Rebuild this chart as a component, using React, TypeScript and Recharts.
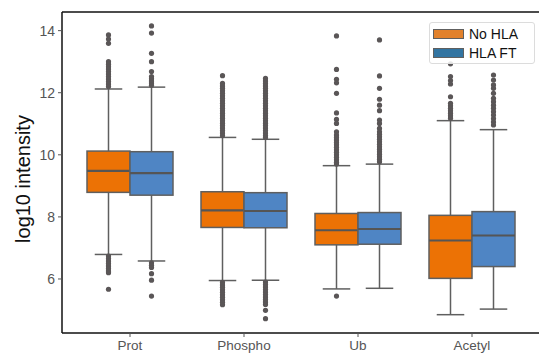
import { Bar, ComposedChart, ReferenceLine, XAxis, YAxis } from "recharts";

const categories = ["Prot", "Phospho", "Ub", "Acetyl"];

// No HLA box stats
const noHlaLow = [6.79, 5.95, 5.68, 4.85];
const noHlaQ1 = [8.79, 7.66, 7.1, 6.02];
const noHlaMedian = [9.48, 8.21, 7.57, 7.24];
const noHlaQ3 = [10.12, 8.81, 8.11, 8.05];
const noHlaHigh = [12.12, 10.56, 9.65, 11.1];

// HLA FT box stats
const hlaLow = [6.58, 5.96, 5.7, 5.03];
const hlaQ1 = [8.7, 7.65, 7.12, 6.4];
const hlaMedian = [9.41, 8.19, 7.61, 7.4];
const hlaQ3 = [10.1, 8.78, 8.14, 8.17];
const hlaHigh = [12.18, 10.5, 9.7, 10.81];

const noHlaOutliers = [
  [
    13.86, 13.73, 13.59, 13.0, 12.92, 12.84, 12.76, 12.68, 12.6, 12.52, 12.44,
    12.36, 12.28, 12.2, 6.74, 6.66, 6.58, 6.5, 6.42, 6.34, 6.26, 6.2, 5.67,
  ],
  [
    12.55, 12.3, 12.22, 12.14, 12.06, 11.98, 11.9, 11.82, 11.74, 11.66, 11.58,
    11.5, 11.42, 11.34, 11.26, 11.18, 11.1, 11.02, 10.94, 10.86, 10.78, 10.7,
    10.62, 5.89, 5.81, 5.73, 5.65, 5.57, 5.49, 5.41, 5.33, 5.25, 5.17,
  ],
  [
    13.83, 12.75, 12.43, 12.32, 11.98, 11.35, 11.14, 11.01, 10.74, 10.64, 10.56,
    10.48, 10.4, 10.32, 10.24, 10.16, 10.08, 10.0, 9.92, 9.84, 9.76, 9.7, 5.45,
  ],
  [12.93, 12.52, 12.39, 12.28, 11.87, 11.66, 11.58, 11.5, 11.42, 11.34, 11.26, 11.18],
];

const hlaOutliers = [
  [
    14.15, 13.92, 13.27, 13.0, 12.68, 12.52, 12.45, 12.38, 12.31, 12.24, 6.52,
    6.44, 6.37, 6.17, 5.96, 5.45,
  ],
  [
    12.46, 12.38, 12.3, 12.22, 12.14, 12.06, 11.98, 11.9, 11.82, 11.74, 11.66,
    11.58, 11.5, 11.42, 11.34, 11.26, 11.18, 11.1, 11.02, 10.94, 10.86, 10.78,
    10.7, 10.62, 10.56, 5.9, 5.82, 5.74, 5.66, 5.58, 5.5, 5.42, 5.34, 5.26,
    5.18, 4.99, 4.72,
  ],
  [
    13.7, 12.54, 12.14, 11.79, 11.6, 11.42, 11.12, 11.01, 10.85, 10.74, 10.66,
    10.58, 10.5, 10.42, 10.34, 10.26, 10.18, 10.1, 10.02, 9.94, 9.86, 9.78,
  ],
  [
    12.57, 12.41, 12.25, 12.14, 11.98, 11.82, 11.71, 11.6, 11.5, 11.39, 11.28,
    11.17, 11.06, 10.96,
  ],
];

const yTicks = [6, 8, 10, 12, 14];

const data = categories.map((name, i) => ({
  name,
  noHla: [noHlaLow[i], noHlaHigh[i]],
  hla: [hlaLow[i], hlaHigh[i]],
}));

const EDGE = "#5f5f5f";
const FLIER = "#5a5657";
const FONT = "Liberation Sans, Arial, sans-serif";

const makeBoxShape =
  (
    low: number[],
    q1: number[],
    med: number[],
    q3: number[],
    high: number[],
    fliers: number[][],
    fill: string
  ) =>
  (props: any) => {
    const { x, y, width, height, index } = props;
    const i = index;
    const top = Math.min(y, y + height);
    const h = Math.abs(height);
    // linear map using the bar's own pixel extent (whisker low..high)
    const toY = (v: number) =>
      top + ((high[i] - v) * h) / (high[i] - low[i]);
    const cx = x + width / 2;
    const cap = width * 0.32;
    return (
      <g>
        <line x1={cx} x2={cx} y1={toY(q3[i])} y2={toY(high[i])} stroke={EDGE} strokeWidth={1.5} />
        <line x1={cx} x2={cx} y1={toY(q1[i])} y2={toY(low[i])} stroke={EDGE} strokeWidth={1.5} />
        <line x1={cx - cap} x2={cx + cap} y1={toY(high[i])} y2={toY(high[i])} stroke={EDGE} strokeWidth={1.5} />
        <line x1={cx - cap} x2={cx + cap} y1={toY(low[i])} y2={toY(low[i])} stroke={EDGE} strokeWidth={1.5} />
        <rect
          x={x}
          y={toY(q3[i])}
          width={width}
          height={toY(q1[i]) - toY(q3[i])}
          fill={fill}
          stroke={EDGE}
          strokeWidth={1.5}
        />
        <line x1={x} x2={x + width} y1={toY(med[i])} y2={toY(med[i])} stroke="#555" strokeWidth={2.2} />
        {fliers[i].map((v, k) => (
          <circle key={k} cx={cx} cy={toY(v)} r={2.6} fill={FLIER} />
        ))}
      </g>
    );
  };

const NoHlaBox = makeBoxShape(noHlaLow, noHlaQ1, noHlaMedian, noHlaQ3, noHlaHigh, noHlaOutliers, "#ec7205");
const HlaBox = makeBoxShape(hlaLow, hlaQ1, hlaMedian, hlaQ3, hlaHigh, hlaOutliers, "#4f85c4");

const legendItems = [
  { label: "No HLA", color: "#e1812c" },
  { label: "HLA FT", color: "#3274a1" },
];

const LegendBox = () => (
  <div
    style={{
      position: "absolute",
      left: 429,
      top: 22,
      width: 106,
      height: 42,
      border: "1px solid #dcdcdc",
      borderRadius: 3,
      background: "rgba(255,255,255,0.85)",
      fontFamily: FONT,
      fontSize: 14,
      color: "#111",
      boxSizing: "border-box",
      paddingTop: 1,
    }}
  >
    {legendItems.map((it) => (
      <div key={it.label} style={{ display: "flex", alignItems: "center", height: 19, marginLeft: 3 }}>
        <div
          style={{
            width: 29,
            height: 8,
            background: it.color,
            border: `1px solid ${EDGE}`,
            marginRight: 5,
          }}
        />
        <span>{it.label}</span>
      </div>
    ))}
  </div>
);

const YLabel = () => {
  const cy = 179;
  return (
    <text
      x={23}
      y={cy}
      transform={`rotate(-90, 23, ${cy})`}
      textAnchor="middle"
      dominantBaseline="central"
      fontSize={20}
      fill="#111"
      fontFamily={FONT}
    >
      log10 intensity
    </text>
  );
};

export default function App() {
  return (
    <div style={{ position: "absolute", left: 0, top: 0, width: 539, height: 356, background: "#fff" }}>
      <ComposedChart
        width={539}
        height={356}
        data={data}
        margin={{ top: 12, right: 0, left: 0, bottom: 0 }}
        barCategoryGap={14}
        barGap={0}
        style={{ fontFamily: FONT }}
      >
        <XAxis
          dataKey="name"
          height={23}
          padding={{ left: 11, right: 10 }}
          axisLine={{ stroke: "#111", strokeWidth: 1.5 }}
          tickLine={{ stroke: "#555" }}
          tickSize={4}
          tickMargin={3}
          tick={{ fill: "#555", fontSize: 13.5 }}
        />
        <YAxis
          type="number"
          domain={[4.26, 14.6]}
          ticks={yTicks}
          width={62}
          axisLine={{ stroke: "#111", strokeWidth: 1.5 }}
          tickLine={{ stroke: "#555" }}
          tickSize={4}
          tickMargin={3}
          tick={{ fill: "#555", fontSize: 14 }}
          label={<YLabel />}
        />
        <ReferenceLine y={14.6} stroke="#111" strokeWidth={1.5} ifOverflow="extendDomain" />
        <Bar dataKey="noHla" name="No HLA" fill="#e1812c" shape={NoHlaBox} isAnimationActive={false} />
        <Bar dataKey="hla" name="HLA FT" fill="#3274a1" shape={HlaBox} isAnimationActive={false} />
      </ComposedChart>
      <LegendBox />
    </div>
  );
}
